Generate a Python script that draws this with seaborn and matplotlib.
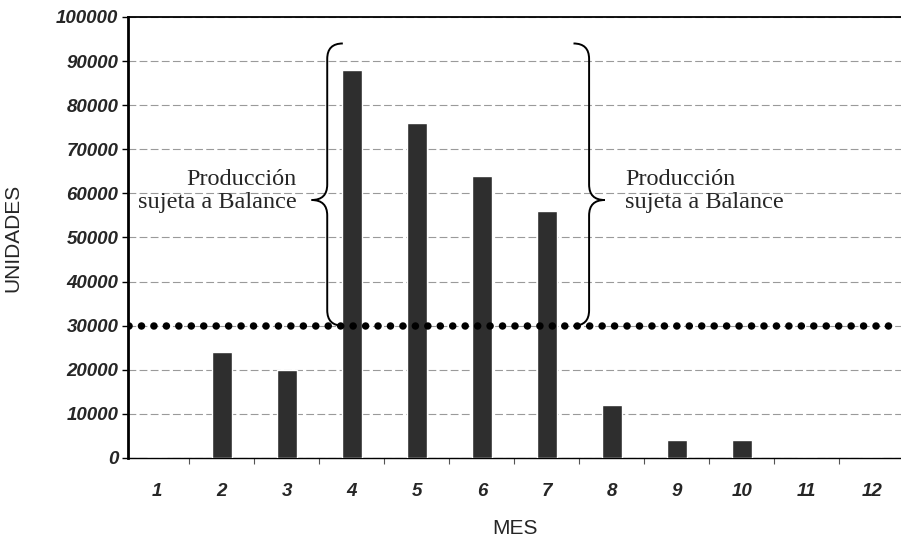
import numpy as np
import pandas as pd
import matplotlib
matplotlib.use("Agg")
import matplotlib.pyplot as plt
from matplotlib.path import Path
from matplotlib.patches import PathPatch
import seaborn as sns

# --- data ---
meses = ['1', '2', '3', '4', '5', '6', '7', '8', '9', '10', '11', '12']
unidades = [0, 24000, 20000, 88000, 76000, 64000, 56000, 12000, 4000, 4000, 0, 0]
limite_balance = 30000
texto_brace = 'Producción\nsujeta a Balance'

df = pd.DataFrame({'MES': meses, 'UNIDADES': unidades})

sns.set_style("white")
plt.rcParams['font.family'] = ['Liberation Sans', 'DejaVu Sans']

fig = plt.figure(figsize=(9.01, 5.41), dpi=100)
ax = fig.add_axes([128 / 901, 1 - 458 / 541, 773 / 901, 441 / 541])

sns.barplot(data=df, x='MES', y='UNIDADES', color='#2e2e2e', saturation=1,
            width=0.31, ax=ax, zorder=3)

ax.set_xlim(-0.446, 11.45)
ax.set_ylim(0, 100000)
ax.set_yticks(np.arange(0, 100001, 10000))
ax.yaxis.grid(True, color='#9a9a9a', linestyle=(0, (7, 3)), linewidth=0.8, zorder=0)

# tick labels: bold italic, Excel look
for lab in ax.get_yticklabels() + ax.get_xticklabels():
    lab.set_fontweight('bold')
    lab.set_fontstyle('italic')
    lab.set_fontsize(13.5)
ax.tick_params(axis='y', length=4, width=1, color='black', pad=3, left=True)
ax.tick_params(axis='x', which='major', length=0, pad=18)
ax.set_xticks(np.arange(0.5, 11.5, 1), minor=True)
ax.tick_params(axis='x', which='minor', length=4, width=0.8, color='#555555', bottom=True)

ax.set_xlabel('MES', fontsize=15, labelpad=14)
ax.set_ylabel('UNIDADES', fontsize=15, labelpad=24)

for side in ['left', 'top', 'bottom']:
    ax.spines[side].set_visible(True)
    ax.spines[side].set_color('black')
ax.spines['left'].set_linewidth(2.0)
ax.spines['top'].set_linewidth(1.3)
ax.spines['bottom'].set_linewidth(1.0)
ax.spines['right'].set_visible(False)

# dotted balance line
ax.plot([-0.43, 11.3], [limite_balance, limite_balance], color='black',
        linewidth=5.4, linestyle=(0, (0.01, 1.65)), dash_capstyle='round', zorder=4)


def brace(ax, xm, ytop, ybot, ymid, d, r, direction):
    # direction -1: tip points left, +1: tip points right
    xe = xm - direction * d
    xt = xm + direction * d
    verts = [(xe, ytop), (xm, ytop), (xm, ytop - r),
             (xm, ymid + r), (xm, ymid), (xt, ymid),
             (xm, ymid), (xm, ymid - r),
             (xm, ybot + r), (xm, ybot), (xe, ybot)]
    codes = [Path.MOVETO, Path.CURVE3, Path.CURVE3,
             Path.LINETO, Path.CURVE3, Path.CURVE3,
             Path.CURVE3, Path.CURVE3,
             Path.LINETO, Path.CURVE3, Path.CURVE3]
    ax.add_patch(PathPatch(Path(verts, codes), fill=False, lw=1.4,
                           edgecolor='black', zorder=5))


brace(ax, 2.62, 94000, 30000, 58500, 0.24, 3500, -1)
brace(ax, 6.65, 94000, 30000, 58500, 0.24, 3500, 1)

ax.text(2.15, 60500, texto_brace, ha='right', va='center', fontsize=17.5,
        family=['Liberation Serif', 'DejaVu Serif'], linespacing=1.15, zorder=6)
ax.text(7.2, 60500, texto_brace, ha='left', va='center', fontsize=17.5,
        family=['Liberation Serif', 'DejaVu Serif'], linespacing=1.15, zorder=6)

fig.savefig('out.png', dpi=100)
